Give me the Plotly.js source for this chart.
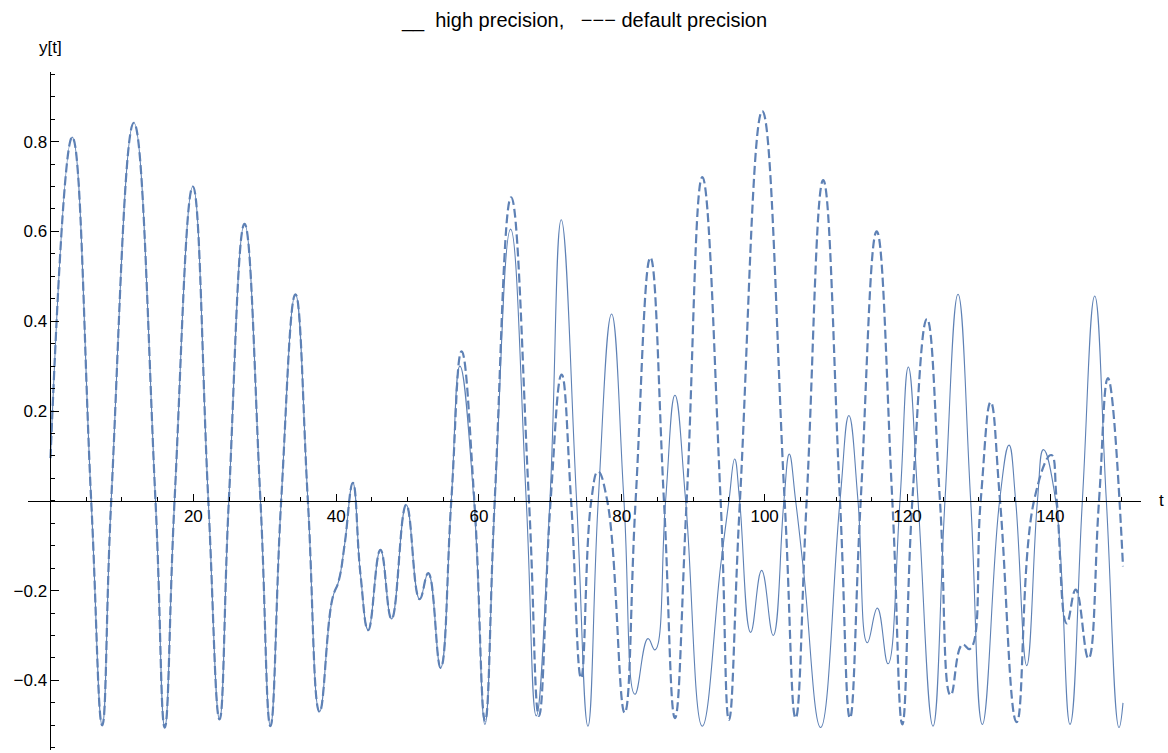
<!DOCTYPE html>
<html>
<head>
<meta charset="utf-8">
<script src="https://cdn.plot.ly/plotly-3.0.1.min.js"></script>
<style>
  html, body { margin: 0; padding: 0; background: #fff; }
  #chart { width: 1168px; height: 753px; }
</style>
</head>
<body>
<div id="chart"></div>
<script>
// ---- data (extrema and zero crossings) ----
const tHigh = [0, 3.04, 5.7, 7.24, 8.5, 11.67, 14.7, 16.0, 17.37, 19.93, 22.1, 23.67, 24.97, 27.17, 29.4, 30.8, 32.3, 34.3, 36.04, 37.68, 39.45, 40.38, 41.18, 42.34, 43.4, 44.5, 46.2, 47.76, 49.81, 51.68, 52.9, 54.62, 56.12, 57.33, 59.29, 60.83, 62.23, 64.43, 66.62, 68.02, 69.93, 71.52, 73.67, 75.26, 76.7, 78.57, 80.3, 81.84, 83.66, 84.64, 86.13, 87.44, 88.94, 91.27, 93.84, 95.0, 95.8, 96.5, 98.04, 99.58, 101.2, 102.7, 103.45, 104.34, 105.5, 107.84, 110.55, 111.8, 113.07, 114.38, 115.78, 117.27, 118.95, 120.12, 121.48, 123.57, 125.25, 127.08, 128.85, 130.49, 132.9, 134.22, 135.15, 136.7, 138.2, 139.03, 140.76, 142.76, 144.49, 146.22, 147.85, 149.62, 150.18];
const yHigh = [0.095, 0.81, 0, -0.50, 0, 0.842, 0, -0.505, 0, 0.70, 0, -0.487, 0, 0.617, 0, -0.502, 0, 0.46, 0, -0.47, -0.22, -0.177, -0.098, 0.04, -0.163, -0.288, -0.109, -0.263, -0.009, -0.219, -0.161, -0.372, 0, 0.30, 0, -0.498, 0, 0.605, 0, -0.479, 0, 0.626, 0, -0.502, 0, 0.416, 0, -0.431, -0.307, -0.332, 0, 0.235, 0, -0.502, -0.144, 0, 0.093, 0, -0.293, -0.155, -0.30, 0, 0.104, 0, -0.163, -0.505, 0, 0.19, 0, -0.316, -0.239, -0.363, 0, 0.298, 0, -0.502, 0, 0.46, 0, -0.498, 0, 0.124, 0, -0.367, 0, 0.114, 0, -0.498, 0, 0.456, 0, -0.505, -0.45];

const tDefault = [0, 3.04, 5.7, 7.24, 8.5, 11.67, 14.7, 16.0, 17.37, 19.93, 22.1, 23.67, 24.97, 27.17, 29.4, 30.8, 32.3, 34.3, 36.04, 37.68, 39.45, 40.38, 41.18, 42.34, 43.4, 44.5, 46.2, 47.76, 49.81, 51.68, 52.9, 54.62, 56.12, 57.56, 59.35, 60.85, 62.2, 64.5, 67.0, 68.4, 70.03, 71.57, 72.9, 74.3, 75.72, 76.66, 77.96, 80.39, 81.93, 84.0, 85.9, 87.44, 89.08, 91.27, 93.84, 95.0, 96.54, 99.67, 102.8, 104.34, 105.88, 108.2, 110.55, 111.95, 113.45, 115.69, 117.88, 119.28, 120.68, 122.73, 124.55, 126.05, 127.68, 128.75, 130.25, 131.65, 132.96, 135.29, 137.72, 140.15, 140.9, 142.3, 143.56, 145.33, 146.82, 148.08, 150.18];
const yDefault = [0.095, 0.81, 0, -0.50, 0, 0.842, 0, -0.505, 0, 0.70, 0, -0.487, 0, 0.617, 0, -0.502, 0, 0.46, 0, -0.47, -0.22, -0.177, -0.098, 0.04, -0.163, -0.288, -0.109, -0.263, -0.009, -0.219, -0.161, -0.372, 0, 0.333, 0, -0.49, 0, 0.676, 0, -0.479, 0, 0.281, 0, -0.395, 0, 0.065, 0, -0.472, 0, 0.542, 0, -0.484, 0, 0.721, 0, -0.488, 0, 0.868, 0, -0.484, 0, 0.714, 0, -0.484, 0, 0.60, 0, -0.498, 0, 0.405, 0, -0.433, -0.32, -0.33, 0, 0.22, 0, -0.493, 0, 0.102, 0, -0.273, -0.198, -0.351, 0, 0.273, -0.146];

const xTickVals = [20, 40, 60, 80, 100, 120, 140];
const xTickText = ['20', '40', '60', '80', '100', '120', '140'];
const yTickVals = [-0.4, -0.2, 0.2, 0.4, 0.6, 0.8];
const yTickText = ['\u22120.4', '\u22120.2', '0.2', '0.4', '0.6', '0.8'];

const titleText = '__\u00a0\u00a0high precision,\u00a0\u00a0\u00a0\u2212\u2212\u2212 default precision';
const xLabel = 't';
const yLabel = 'y[t]';

// ---- chart ----
const lineColor = '#5E81B5';
const xRange = [-3.15, 152.7];
const yRange = [-0.555, 0.955];
const FONT = '"Liberation Sans", Arial, sans-serif';

const traces = [
  {
    x: tHigh, y: yHigh, type: 'scatter', mode: 'lines', name: 'high precision',
    line: { color: lineColor, width: 1.1, shape: 'spline', smoothing: 1.3 }
  },
  {
    x: tDefault, y: yDefault, type: 'scatter', mode: 'lines', name: 'default precision',
    line: { color: lineColor, width: 2.2, dash: '9px,4px', shape: 'spline', smoothing: 1.3 }
  }
];

const xPos = (0 - yRange[0]) / (yRange[1] - yRange[0]);
const yPos = (0 - xRange[0]) / (xRange[1] - xRange[0]);

const layout = {
  width: 1168, height: 753,
  margin: { l: 28, r: 27, t: 72, b: 3 },
  paper_bgcolor: '#fff', plot_bgcolor: '#fff',
  showlegend: false,
  font: { family: FONT, size: 17, color: '#000' },
  title: {
    text: titleText, x: 0.5, xref: 'paper', xanchor: 'center',
    y: 1 - 20 / 753, yref: 'container', yanchor: 'middle',
    font: { family: FONT, size: 20, color: '#000' }
  },
  xaxis: {
    range: xRange, anchor: 'free', position: xPos,
    showgrid: false, zeroline: false, showline: true, linecolor: '#000', linewidth: 1,
    tickmode: 'array', tickvals: xTickVals, ticktext: xTickText,
    ticks: 'inside', ticklen: 7, tickcolor: '#000', tickwidth: 1,
    minor: { tickmode: 'linear', tick0: 0, dtick: 5, ticks: 'inside', ticklen: 4, tickcolor: '#000', showgrid: false },
    tickfont: { family: FONT, size: 17, color: '#000' }
  },
  yaxis: {
    range: yRange, anchor: 'free', position: yPos,
    showgrid: false, zeroline: false, showline: true, linecolor: '#000', linewidth: 1,
    tickmode: 'array', tickvals: yTickVals, ticktext: yTickText,
    ticks: 'inside', ticklen: 8, tickcolor: '#000', tickwidth: 1,
    minor: { tickmode: 'linear', tick0: 0, dtick: 0.05, ticks: 'inside', ticklen: 4, tickcolor: '#000', showgrid: false },
    tickfont: { family: FONT, size: 17, color: '#000' }
  },
  annotations: [
    { text: yLabel, xref: 'x', x: 0, yref: 'paper', y: 1, yshift: 25, xanchor: 'center', yanchor: 'middle',
      showarrow: false, font: { family: FONT, size: 17, color: '#000' } },
    { text: xLabel, xref: 'paper', x: 1, xshift: 20, yref: 'y', y: 0, xanchor: 'center', yanchor: 'middle',
      showarrow: false, font: { family: FONT, size: 17, color: '#000' } }
  ]
};

Plotly.newPlot('chart', traces, layout, { displayModeBar: false, staticPlot: true });
</script>
</body>
</html>
